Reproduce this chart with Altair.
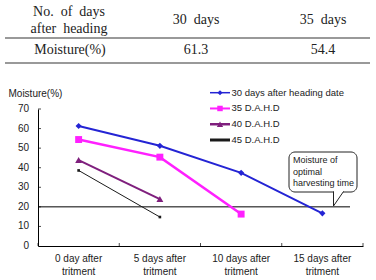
import altair as alt
import pandas as pd

# ---------------- data ----------------
days = ["0 day after tritment", "5 days after tritment",
        "10 days after tritment", "15 days after tritment"]
series = ["30 days after heading date", "35 D.A.H.D", "40 D.A.H.D", "45 D.A.H.D"]
m30 = [61.3, 51.2, 37.4, 16.7]
m35 = [54.4, 45.4, 16.3]
m40 = [43.9, 24.0]
m45 = [38.6, 14.8]
y_ticks = [0, 10, 20, 30, 40, 50, 60, 70]
optimal_moisture = [20]
callout_text = "Moisture of\noptimal\nharvesting time"
NB = "\u00a0"
table_head = [f"No.{NB} of{NB} days", f"after{NB} heading", f"30{NB} days", f"35{NB} days"]
table_row = ["Moisture(%)", "61.3", "54.4"]

# ---------------- styles ----------------
colors = ["#2424d4", "#ff20ff", "#7f1f7d", "#1a1a1a"]
line_widths = [2, 2.5, 2, 1]
legend_line_widths = [1.5, 3, 2, 1]
marker_shapes = ["diamond", "square", "triangle-up", "square"]
marker_sizes = [38, 48, 48, 7]
legend_marker_sizes = [26, 30, 40, 4]
SANS = "Liberation Sans"
SERIF = "Liberation Serif"

rows = []
for s, vals in zip(series, [m30, m35, m40, m45]):
    for d, v in zip(days, vals):
        rows.append({"series": s, "day": d, "moisture": v})
df = pd.DataFrame(rows)
leg_df = pd.DataFrame({"series": series})
one = pd.DataFrame({"k": [0]})

W, H = 325, 137


def xenc(**kw):
    return alt.X(
        "day:N", sort=days,
        scale=alt.Scale(type="band", domain=days, paddingInner=0, paddingOuter=0),
        axis=alt.Axis(title=None, ticks=False, grid=False, labelAngle=0,
                      labelExpr="split(replace(datum.label, ' tritment', '|tritment'), '|')",
                      domainColor="#000", domainWidth=1.2, labelFont=SANS,
                      labelFontSize=10, labelColor="#222", labelPadding=7,
                      labelLineHeight=13.5),
        **kw)


yenc = alt.Y(
    "moisture:Q", scale=alt.Scale(domain=[0, 70], nice=False),
    axis=alt.Axis(values=y_ticks, ticks=False, grid=False, domainColor="#000",
                  labels=False,
                  title="Moisture(%)", titleAngle=0, titleAlign="left",
                  titleBaseline="middle", titleX=-30, titleY=-16, titleFont=SANS,
                  titleFontSize=10, titleFontWeight="normal", titleColor="#222"))

rule20 = alt.Chart(pd.DataFrame({"moisture": optimal_moisture})).mark_rule(
    color="#000", strokeWidth=1).encode(y=yenc, x=alt.value(0), x2=alt.value(312))

series_layers = []
for s, c, lw, shp, sz in zip(series, colors, line_widths, marker_shapes, marker_sizes):
    base = alt.Chart(df).transform_filter(alt.datum.series == s)
    series_layers.append(base.mark_line(color=c, strokeWidth=lw).encode(x=xenc(), y=yenc))
    series_layers.append(base.mark_point(filled=True, opacity=1, color=c, shape=shp,
                                         size=sz).encode(x=xenc(), y=yenc))

tick_df = pd.DataFrame({"moisture": y_ticks})
xticks = alt.Chart(pd.DataFrame({"day": days})).mark_tick(
    orient="vertical", size=3, thickness=1, color="#000").encode(
    x=xenc(bandPosition=0), y=alt.value(H - 1.5))
xtick_end = alt.Chart(pd.DataFrame({"day": days[-1:]})).mark_tick(
    orient="vertical", size=3, thickness=1, color="#000").encode(
    x=xenc(bandPosition=1), y=alt.value(H - 1.5))
yticks = alt.Chart(tick_df[tick_df.moisture > 0]).mark_tick(
    orient="horizontal", size=3, thickness=1, color="#000").encode(
    y=yenc, x=alt.value(1.5))
ylabels = alt.Chart(tick_df).mark_text(
    align="right", baseline="middle", font=SANS, fontSize=10, color="#222").encode(
    y=yenc, x=alt.value(-9), text="moisture:Q")

main = alt.layer(rule20, xticks, xtick_end, yticks, ylabels, *series_layers)

# ---------------- legend (drawn from the series list) ----------------
ly = alt.Y("series:N", scale=alt.Scale(type="point", domain=series, range=[-16.3, 31],
                                       padding=0), axis=None)
sc = dict(domain=series)
leg_lines = alt.Chart(leg_df).mark_rule().encode(
    y=ly, x=alt.value(172), x2=alt.value(192),
    color=alt.Color("series:N", scale=alt.Scale(range=colors, **sc), legend=None),
    strokeWidth=alt.StrokeWidth("series:N", scale=alt.Scale(range=legend_line_widths, **sc),
                                legend=None))
leg_marks = []
for s, c, shp, sz in zip(series, colors, marker_shapes, legend_marker_sizes):
    leg_marks.append(
        alt.Chart(leg_df).transform_filter(alt.datum.series == s).mark_point(
            filled=True, opacity=1, color=c, shape=shp, size=sz).encode(
            y=ly, x=alt.value(182)))
leg_text = alt.Chart(leg_df).mark_text(align="left", baseline="middle", font=SANS,
                                       fontSize=9.5, color="#222").encode(
    y=ly, x=alt.value(193.5), text="series:N")
legend = alt.layer(leg_lines, *leg_marks, leg_text)

# ---------------- callout ----------------
box = alt.Chart(one).mark_rect(fill="white", stroke="#222", strokeWidth=1,
                               cornerRadius=6).encode(
    x=alt.value(251), x2=alt.value(319), y=alt.value(43), y2=alt.value(83))
gap = alt.Chart(one).mark_rule(color="white", strokeWidth=2).encode(
    x=alt.value(296), x2=alt.value(305), y=alt.value(83))
tail1 = alt.Chart(one).mark_rule(color="#222", strokeWidth=1).encode(
    x=alt.value(295.5), y=alt.value(82.5), y2=alt.value(97))
tail2 = alt.Chart(one).mark_rule(color="#222", strokeWidth=1).encode(
    x=alt.value(305.5), x2=alt.value(295.5), y=alt.value(82.5), y2=alt.value(97))
callout = alt.Chart(one).mark_text(align="left", baseline="top", font=SANS,
                                   fontSize=9, lineHeight=11.5, lineBreak="\n",
                                   color="#222").encode(
    x=alt.value(255), y=alt.value(47), text=alt.value(callout_text))


# ---------------- table ----------------
def ttext(t, x, y, align="center"):
    return alt.Chart(one).mark_text(align=align, baseline="middle", font=SERIF,
                                    fontSize=14, color="#222").encode(
        x=alt.value(x), y=alt.value(y), text=alt.value(t))


def hline(y):
    return alt.Chart(one).mark_rule(color="#777", strokeWidth=1.5).encode(
        x=alt.value(-33), x2=alt.value(332), y=alt.value(y))


table = alt.layer(
    ttext(table_head[0], 31, -97), ttext(table_head[1], 31, -80),
    ttext(table_head[2], 158, -89), ttext(table_head[3], 285, -89),
    ttext(table_row[0], 32, -59), ttext(table_row[1], 158, -59),
    ttext(table_row[2], 285, -59),
    hline(-71), hline(-46),
)
extras = alt.layer(box, gap, tail1, tail2, callout, table)

chart = alt.layer(main, legend, extras).resolve_scale(
    y="independent", color="independent", strokeWidth="independent"
).properties(
    width=W, height=H, autosize="none",
    padding={"left": 38, "top": 109, "right": 13, "bottom": 34},
    background="white"
).configure_view(stroke=None)

chart.save("out.html", embed_options={"renderer": "svg", "actions": False})
